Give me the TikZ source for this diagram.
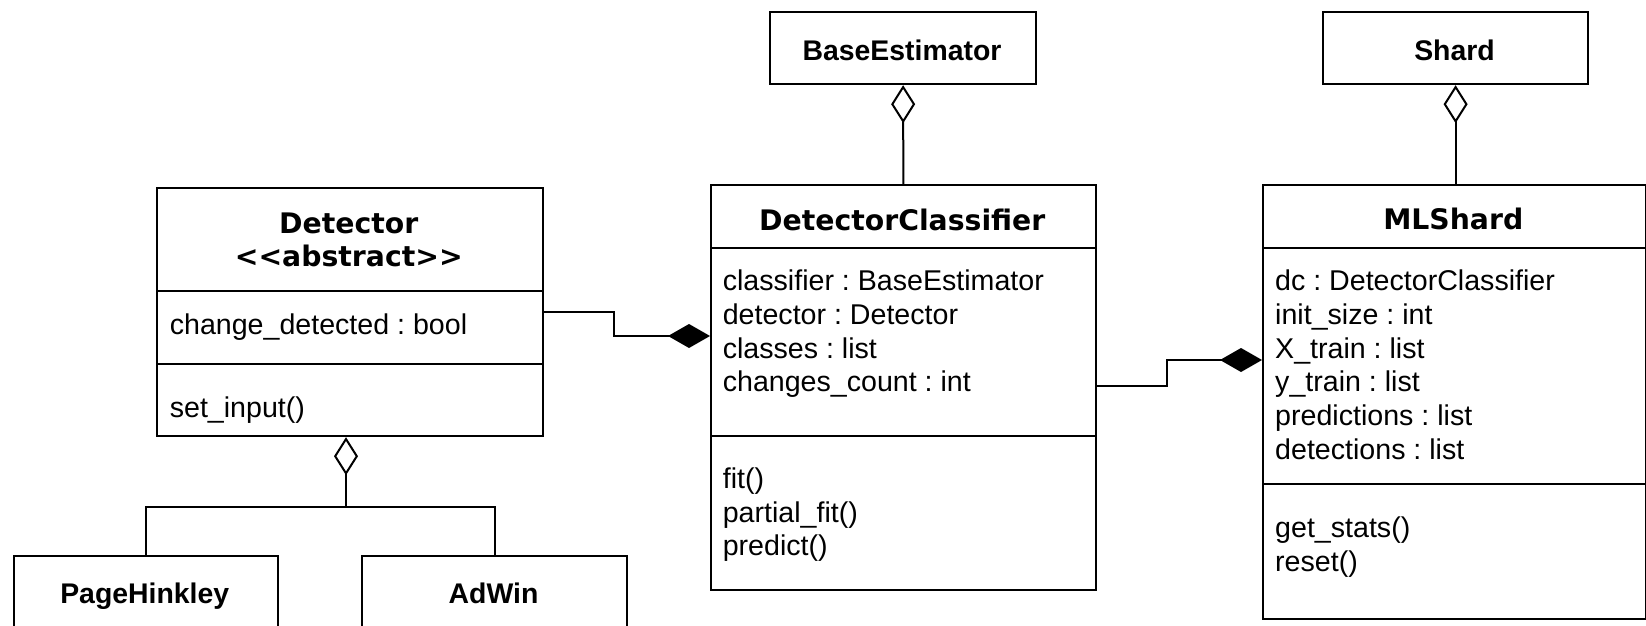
\documentclass[tikz,border=0pt]{standalone}
\usepackage{fontspec}
\setmainfont{Liberation Sans}
\newfontfamily\titlefont{DejaVu Sans}
\usetikzlibrary{arrows.meta}
\frenchspacing
\begin{document}
\begin{tikzpicture}[x=1pt,y=-1pt,
  box/.style={draw, line width=2.2pt, rectangle, inner sep=0pt, anchor=north west},
  conn/.style={line width=2pt},
  txt/.style={inner sep=0pt, anchor=base west, font=\frenchspacing\fontsize{28.6}{34}\selectfont},
  ttl/.style={inner sep=0pt, anchor=base, font=\titlefont\bfseries\fontsize{28.3}{34}\selectfont},
  lbl/.style={inner sep=0pt, anchor=base, font=\bfseries\fontsize{28.4}{34}\selectfont},
  comp/.style={-{Diamond[length=42pt,width=24pt]}},
  agg/.style={-{Diamond[open,length=38pt,width=24pt]}},
]
\fill[white] (0,0) rectangle (1646,626);
\clip (0,0) rectangle (1646,626);

% boxes
\node[box, minimum width=266pt, minimum height=72pt] (be) at (769,11) {};
\node[box, minimum width=265pt, minimum height=72pt] (shard) at (1322,11) {};

\node[box, minimum width=385.5pt, minimum height=103.5pt] (detT) at (156,186.5) {};
\node[box, minimum width=385.5pt, minimum height=72.5pt] (detA) at (156,290) {};
\node[box, minimum width=385.5pt, minimum height=72.5pt] (detM) at (156,362.5) {};

\node[box, minimum width=384.5pt, minimum height=62.5pt] (dcT) at (710,184) {};
\node[box, minimum width=384.5pt, minimum height=188pt] (dcA) at (710,246.5) {};
\node[box, minimum width=384.5pt, minimum height=154pt] (dcM) at (710,434.5) {};

\node[box, minimum width=382.5pt, minimum height=62.5pt] (mlT) at (1262,184) {};
\node[box, minimum width=382.5pt, minimum height=236pt] (mlA) at (1262,246.5) {};
\node[box, minimum width=382.5pt, minimum height=135pt] (mlM) at (1262,482.5) {};

\node[box, minimum width=264.5pt, minimum height=85pt] (ph) at (12.5,555) {};
\node[box, minimum width=265pt, minimum height=85pt] (aw) at (361,555) {};

% texts
\node[lbl] (beL) at (902,60) {BaseEstimator};
\node[lbl] (shL) at (1454.5,60) {Shard};
\node[lbl] (phL) at (144.75,603) {PageHinkley};
\node[lbl] (awL) at (493.5,603) {AdWin};

\node[ttl] (detL1) at (348.75,233) {Detector};
\node[ttl] (detL2) at (348.75,266) {<{}<abstract>{}>};
\node[txt] (detA1) at (169.6,334) {change\_detected : bool};
\node[txt] (detM1) at (169.6,417) {set\_input()};

\node[ttl] (dcL) at (902.25,230) {DetectorClassifier};
\node[txt] (dcA1) at (722.6,290) {classifier : BaseEstimator};
\node[txt] (dcA2) at (722.6,324) {detector : Detector};
\node[txt] (dcA3) at (722.6,358) {classes : list};
\node[txt] (dcA4) at (722.6,391) {changes\_count : int};
\node[txt] (dcM1) at (722.6,488) {fit()};
\node[txt] (dcM2) at (722.6,522) {partial\_fit()};
\node[txt] (dcM3) at (722.6,555) {predict()};

\node[ttl] (mlL) at (1453.25,229) {MLShard};
\node[txt] (mlA1) at (1275,290) {dc : DetectorClassifier};
\node[txt] (mlA2) at (1275,324) {init\_size : int};
\node[txt] (mlA3) at (1275,358) {X\_train : list};
\node[txt] (mlA4) at (1275,391) {y\_train : list};
\node[txt] (mlA5) at (1275,425) {predictions : list};
\node[txt] (mlA6) at (1275,459) {detections : list};
\node[txt] (mlM1) at (1275,537) {get\_stats()};
\node[txt] (mlM2) at (1275,571) {reset()};

% connectors
\coordinate (c1a) at (613.5,312);
\coordinate (c1b) at (613.5,336);
\draw[conn,comp] (detA.east |- c1a) -- (c1a) -- (c1b) -- (dcA.west |- c1b);

\coordinate (c2a) at (1167,386);
\coordinate (c2b) at (1167,360);
\draw[conn,comp] (dcA.east |- c2a) -- (c2a) -- (c2b) -- (mlA.west |- c2b);

\draw[conn,agg] (dcT.north) -- (be.south);
\draw[conn,agg] (mlT.north -| shard.south) -- (shard.south);

\coordinate (j) at (346,507);
\draw[conn] (ph.north) |- (j) -| (aw.north);
\draw[conn,agg] (j) -- (j |- detM.south);
\end{tikzpicture}
\end{document}
